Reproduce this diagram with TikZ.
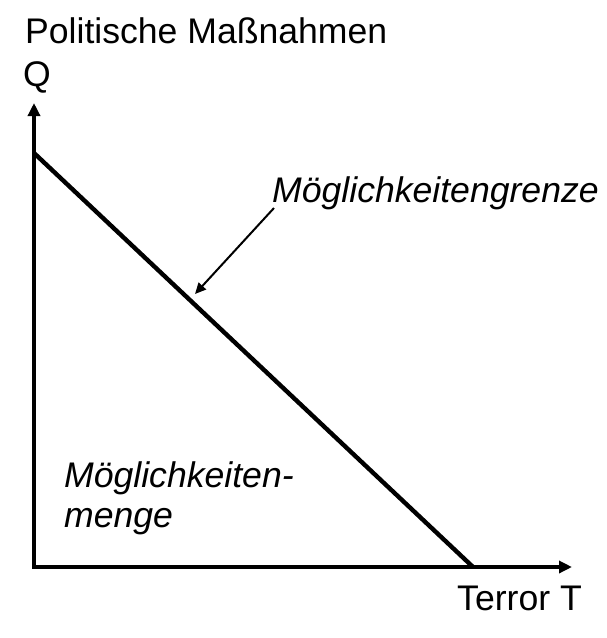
\documentclass[tikz,border=0pt]{standalone}
\usepackage{fontspec}
\setmainfont{Liberation Sans}
\usetikzlibrary{arrows.meta}
\begin{document}
\begin{tikzpicture}[x=1pt,y=-1pt,
  lbl/.style={anchor=base west,inner sep=0pt,font=\fontsize{35.6}{42}\selectfont},
  ilbl/.style={lbl,font=\fontsize{35.6}{42}\selectfont\itshape},
  axis/.style={line width=4.4pt,-{Triangle[length=13pt,width=12pt]}},
  frontier/.style={line width=4.4pt},
  pointer/.style={line width=2pt,-{Triangle[length=11pt,width=10pt]}}]
\useasboundingbox (0,0) rectangle (606,638);
\coordinate (O) at (34,567);
\coordinate (Ytip) at (34,103);
\coordinate (Xtip) at (572,567);
\coordinate (F1) at (34,153);
\coordinate (F2) at (473,567);
\coordinate (A1) at (274,208);
\coordinate (A2) at (195,294);
\draw[axis] ([yshift=2pt]O) -- (Ytip);
\draw[axis] ([xshift=-2pt]O) -- (Xtip);
\draw[frontier,line cap=butt] (F1) -- (F2);
\draw[pointer] (A1) -- (A2);
\node[lbl] (ylab) at (25,43) {Politische Maßnahmen};
\node[lbl] (q) at (23,86) {Q};
\node[lbl] (xlab) at (457,610) {Terror T};
\node[ilbl] (grenze) at (272,202) {Möglichkeitengrenze};
\node[ilbl] (menge1) at (64,487) {Möglichkeiten-};
\node[ilbl] (menge2) at (64,527) {menge};
\end{tikzpicture}
\end{document}
